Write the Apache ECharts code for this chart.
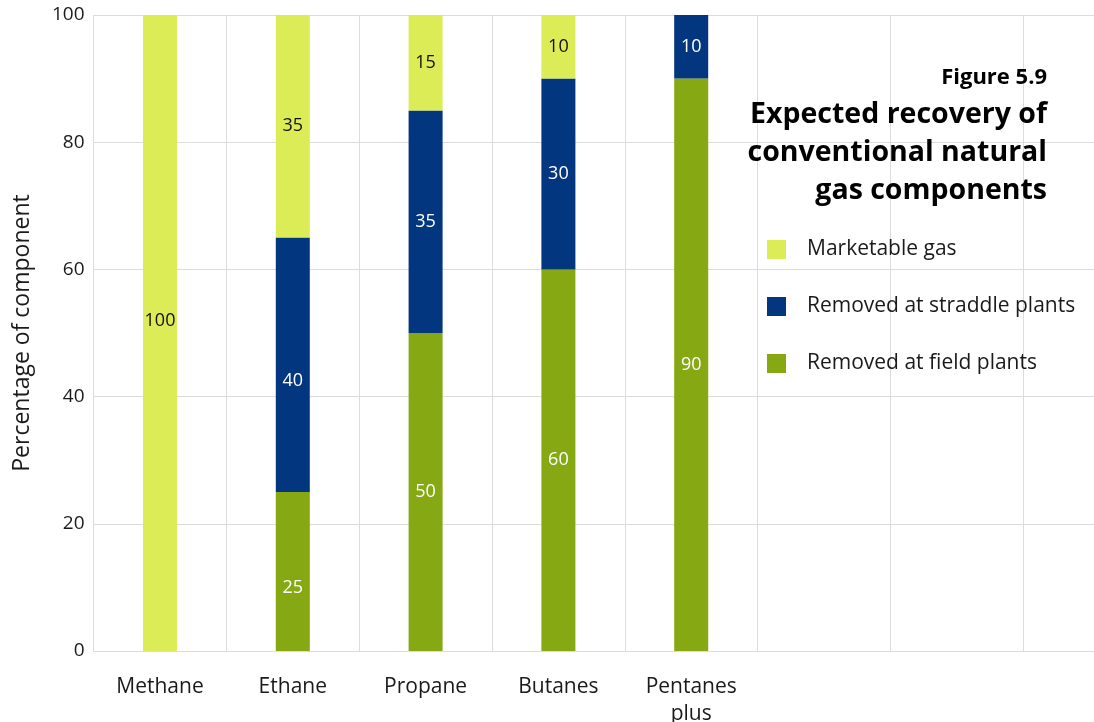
<!DOCTYPE html>
<html>
<head>
<meta charset="utf-8">
<title>Expected recovery of conventional natural gas components</title>
<script src="https://cdn.jsdelivr.net/npm/echarts@6/dist/echarts.min.js"></script>
<style>
  html, body { margin: 0; padding: 0; background: #ffffff; overflow: hidden; }
  /* The plot runs on past the right edge of the page, so the last band is cut off */
  #chart { width: 1156px; height: 722px; }
</style>
</head>
<body>
<div id="chart"></div>
<script>
// Gas components (the last three bands are left empty)
var categories = ['Methane', 'Ethane', 'Propane', 'Butanes', 'Pentanes\nplus', '', '', ''];

// Percentage of each component, by where it ends up
var fieldPlants    = [null, 25, 50, 60, 90, null, null, null];
var straddlePlants = [null, 40, 35, 30, 10, null, null, null];
var marketableGas  = [100, 35, 15, 10, null, null, null, null];

var yTicks = [0, 20, 40, 60, 80, 100];

var figureLabel = 'Figure 5.9';
var heading = 'Expected recovery of\nconventional natural\ngas components';

var FONT = '"Open Sans", "Noto Sans", sans-serif';
var TEXT = '#1a1a1a';
var GRID = '#dcdcdc';

// Nudges for a few value labels inside their segments
var labelNudge = {
  field:      { 1: 16 },
  straddle:   { 1: 16 },
  marketable: { 0: -12 }
};

function withLabels(values, key) {
  return values.map(function (v, i) {
    var dy = labelNudge[key][i];
    if (v == null || dy == null) return v;
    return { value: v, label: { offset: [0, dy] } };
  });
}

var chart = echarts.init(document.getElementById('chart'), null, { renderer: 'canvas' });

chart.setOption({
  backgroundColor: '#ffffff',
  animation: false,
  textStyle: { fontFamily: FONT },
  // Right-aligned figure number and heading
  graphic: [
    {
      type: 'text',
      x: 1047,
      y: 78,
      z: 10,
      style: {
        text: figureLabel,
        align: 'right',
        verticalAlign: 'middle',
        fill: '#000000',
        fontFamily: FONT,
        fontSize: 22,
        fontWeight: 'bold'
      }
    },
    {
      type: 'text',
      x: 1047,
      y: 153,
      z: 10,
      style: {
        text: heading,
        align: 'right',
        verticalAlign: 'middle',
        fill: '#000000',
        fontFamily: FONT,
        fontSize: 28.5,
        fontWeight: 'bold',
        lineHeight: 38
      }
    }
  ],
  legend: {
    orient: 'vertical',
    left: 762,
    top: 234,
    itemWidth: 19,
    itemHeight: 19,
    itemGap: 36,
    icon: 'rect',
    selectedMode: false,
    data: ['Marketable gas', 'Removed at straddle plants', 'Removed at field plants'],
    textStyle: { fontFamily: FONT, fontSize: 21, color: TEXT, padding: [0, 0, 0, 16] }
  },
  grid: {
    left: 93.6,
    right: 0,
    top: 15,
    bottom: 71,
    containLabel: false,
    outerBoundsMode: 'none'
  },
  xAxis: {
    type: 'category',
    data: categories,
    boundaryGap: true,
    axisLine: { show: true, lineStyle: { color: GRID, width: 1 } },
    axisTick: { show: false },
    splitLine: { show: true, interval: 0, lineStyle: { color: GRID, width: 1 } },
    axisLabel: {
      interval: 0,
      margin: 23,
      fontFamily: FONT,
      fontSize: 21,
      color: TEXT,
      lineHeight: 27
    }
  },
  yAxis: {
    type: 'value',
    min: yTicks[0],
    max: yTicks[yTicks.length - 1],
    interval: yTicks[1] - yTicks[0],
    name: 'Percentage of component',
    nameLocation: 'middle',
    nameGap: 60,
    nameRotate: 90,
    nameTextStyle: { fontFamily: FONT, fontSize: 23, color: TEXT },
    axisLine: { show: false },
    axisTick: { show: false },
    splitLine: { show: true, lineStyle: { color: GRID, width: 1 } },
    axisLabel: { margin: 9, fontFamily: FONT, fontSize: 19, color: TEXT, padding: [8, 0, 0, 0] }
  },
  series: [
    {
      name: 'Removed at field plants',
      type: 'bar',
      stack: 'total',
      barWidth: 34,
      data: withLabels(fieldPlants, 'field'),
      itemStyle: { color: '#86a813' },
      label: { show: true, position: 'inside', color: '#ffffff', fontFamily: FONT, fontSize: 18 }
    },
    {
      name: 'Removed at straddle plants',
      type: 'bar',
      stack: 'total',
      barWidth: 34,
      data: withLabels(straddlePlants, 'straddle'),
      itemStyle: { color: '#02367e' },
      label: { show: true, position: 'inside', color: '#ffffff', fontFamily: FONT, fontSize: 18 }
    },
    {
      name: 'Marketable gas',
      type: 'bar',
      stack: 'total',
      barWidth: 34,
      data: withLabels(marketableGas, 'marketable'),
      itemStyle: { color: '#dcec56' },
      label: { show: true, position: 'inside', color: '#111111', fontFamily: FONT, fontSize: 18 }
    }
  ]
});
</script>
</body>
</html>
